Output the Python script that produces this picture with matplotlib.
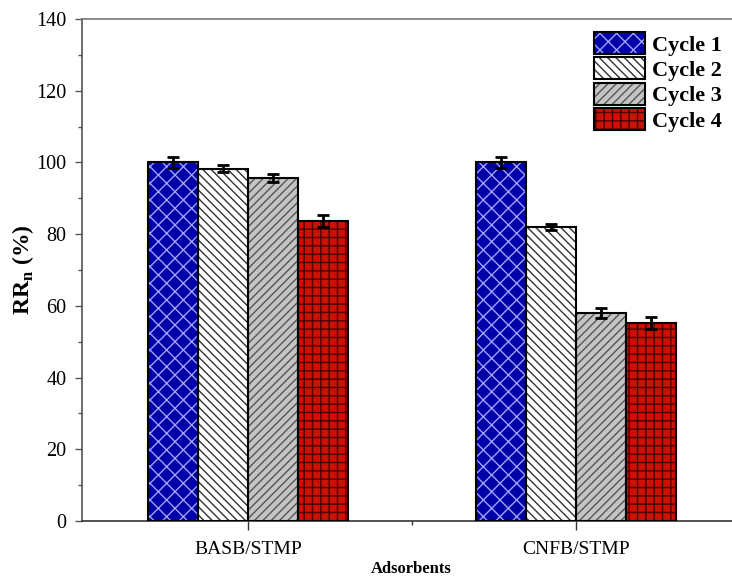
import matplotlib
matplotlib.use("Agg")
import matplotlib.pyplot as plt
import numpy as np
from matplotlib.ticker import MultipleLocator, FixedLocator

plt.rcParams['font.family'] = ['Liberation Serif', 'DejaVu Serif']
plt.rcParams['mathtext.fontset'] = 'custom'
plt.rcParams['mathtext.rm'] = 'Liberation Serif'
plt.rcParams['mathtext.bf'] = 'Liberation Serif:bold'
plt.rcParams['hatch.linewidth'] = 1.0

adsorbents = ['BASB/STMP', 'CNFB/STMP']
cycles = ['Cycle 1', 'Cycle 2', 'Cycle 3', 'Cycle 4']
# rows: cycles, cols: adsorbents
values = [[100.0, 100.0],
          [98.2, 82.0],
          [95.7, 58.0],
          [83.6, 55.2]]
errors = [[1.6, 1.6],
          [1.0, 0.8],
          [1.2, 1.3],
          [1.6, 1.6]]

fills = ['#0000a8', '#ffffff', '#c4c4c4', '#cc1100']
hatch_cols = ['#a0a0ff', '#333333', '#555555', '#4a0000']
hatches = ['xx', '\\\\\\\\', '////', '++']

fig = plt.figure(figsize=(7.32, 5.81), dpi=100)
ax = fig.add_axes([0.112, 0.1033, 0.899, 0.864])

x = np.arange(1, len(adsorbents) + 1)
w = 0.152
handles = []
for i in range(len(cycles)):
    pos = x + (i - 1.5) * w
    b1 = ax.bar(pos, values[i], w, color=fills[i], edgecolor=hatch_cols[i],
                hatch=hatches[i], linewidth=0, zorder=2)
    b2 = ax.bar(pos, values[i], w, facecolor='none', edgecolor='black',
                linewidth=1.5, zorder=3)
    ax.errorbar(pos, values[i], yerr=errors[i], fmt='none', ecolor='black',
                elinewidth=2, capsize=4.5, capthick=2, zorder=4)
    handles.append((b1.patches[0], b2.patches[0]))

ax.set_ylim(0, 140)
ax.set_xlim(0.494, 2.5)
ax.yaxis.set_major_locator(MultipleLocator(20))
ax.yaxis.set_minor_locator(MultipleLocator(10))
ax.set_xticks(x)
ax.set_xticklabels(adsorbents, fontsize=14)
ax.xaxis.set_minor_locator(FixedLocator([1.5]))
ax.tick_params(axis='y', which='major', direction='out', length=5, labelsize=14.5,
               width=1, color='#555555', pad=6)
ax.tick_params(axis='y', which='minor', direction='out', length=3, width=1, color='#555555')
ax.tick_params(axis='x', which='major', direction='out', length=6.5, width=1,
               pad=8, color='#333333')
ax.tick_params(axis='x', which='minor', direction='out', length=3, width=1, color='#333333')

ax.spines['right'].set_visible(False)
ax.spines['left'].set_color('#555555')
ax.spines['top'].set_color('#777777')
ax.spines['bottom'].set_color('#333333')
for s in ['left', 'top', 'bottom']:
    ax.spines[s].set_linewidth(1.2)

ax.set_ylabel(r'RR$_{\mathbf{n}}$ (%)', fontsize=17, fontweight='bold', labelpad=0)
ax.set_xlabel('Adsorbents', fontsize=12, fontweight='bold', labelpad=2)

ax.legend(handles, cycles, loc='upper right', bbox_to_anchor=(0.996, 1.005),
          frameon=False, prop={'weight': 'bold', 'size': 16},
          handlelength=2.3, handleheight=1.15, labelspacing=0.08,
          handletextpad=0.3, borderaxespad=0.3)

fig.savefig('out.png', dpi=100)
